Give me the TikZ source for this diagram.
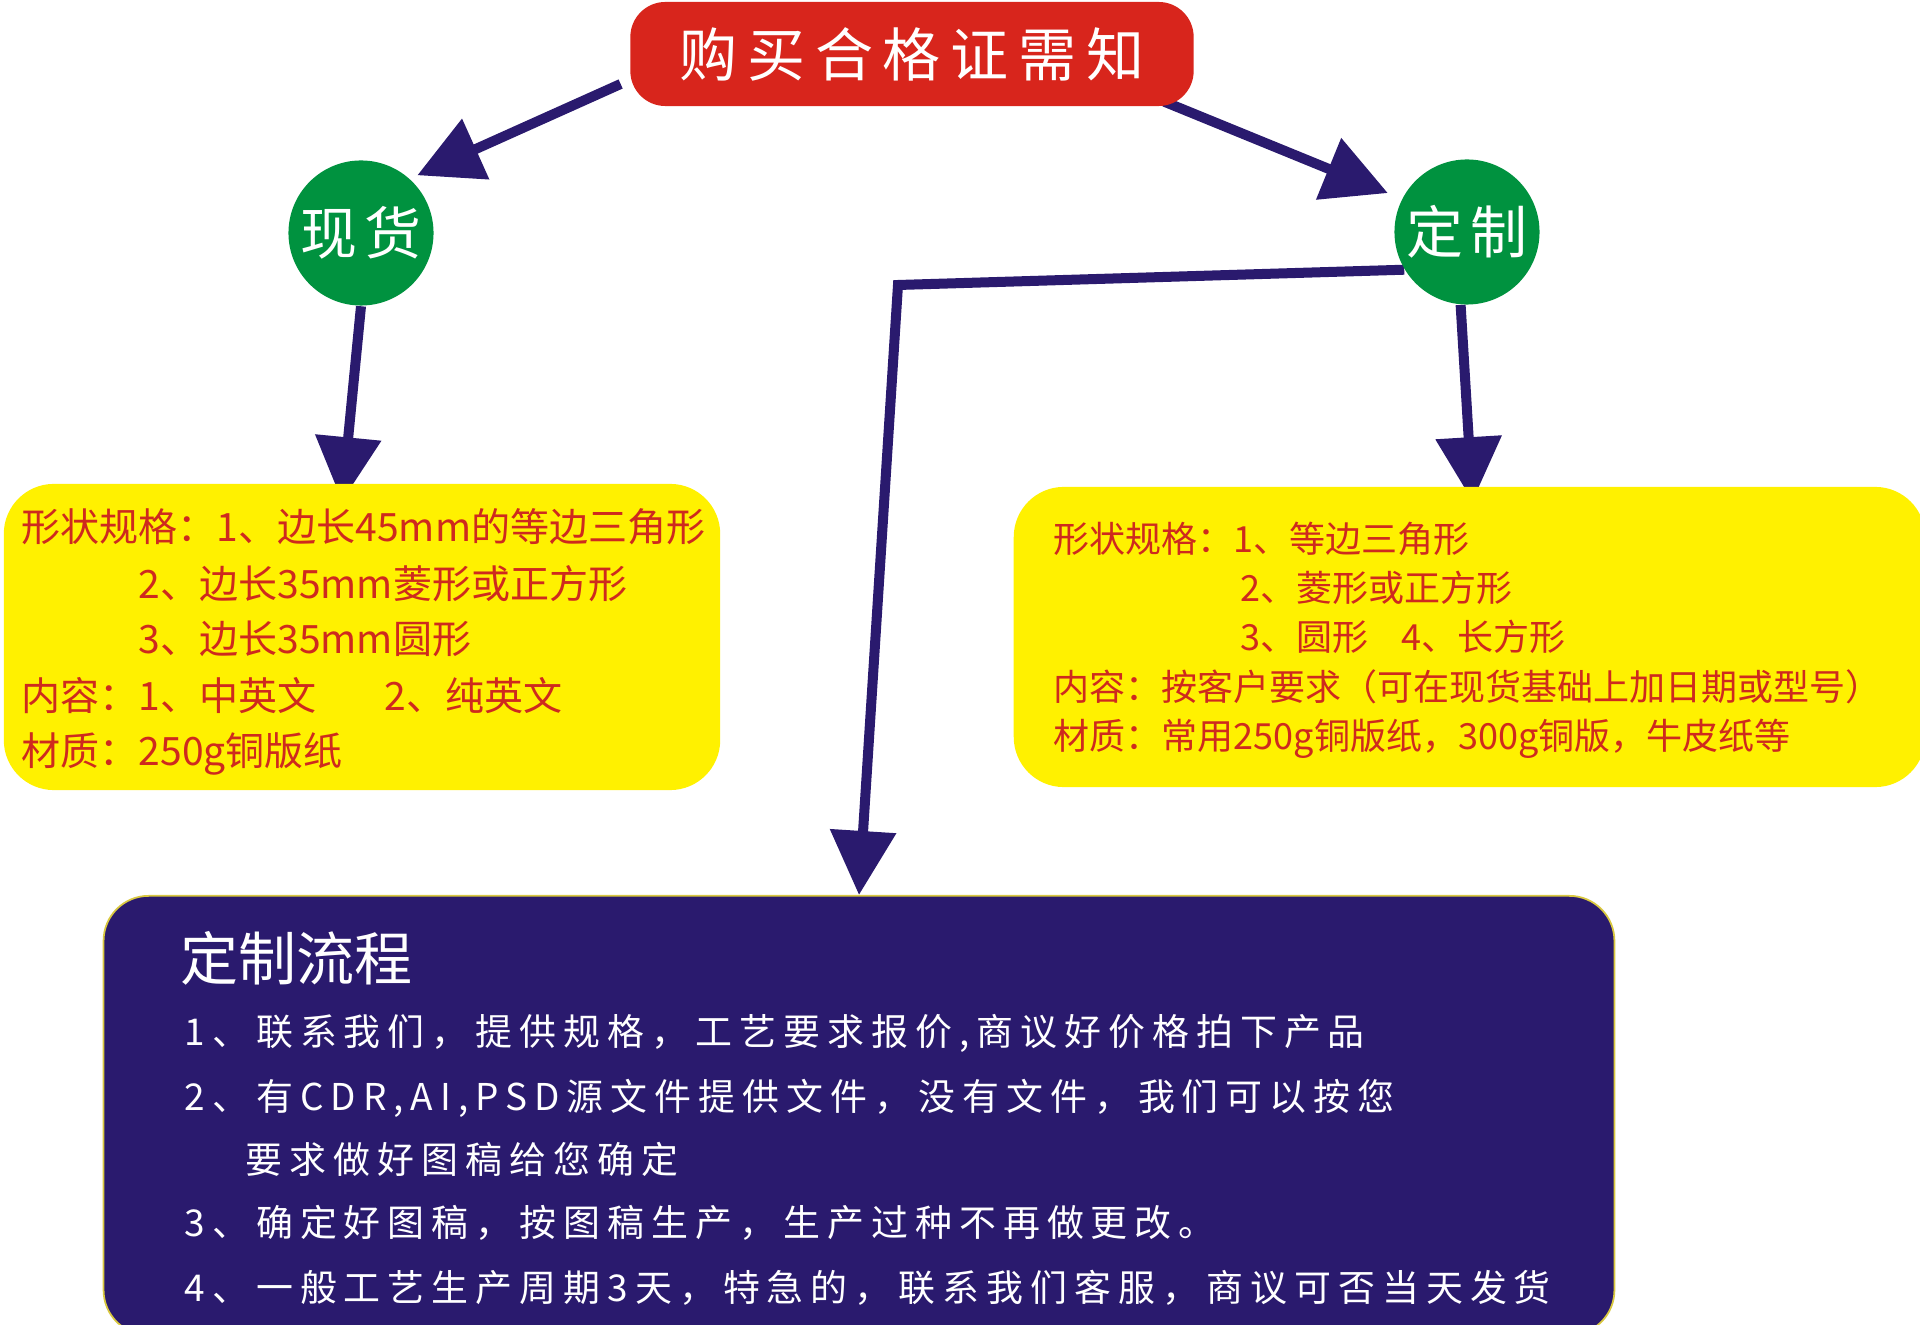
\documentclass[tikz,border=0pt]{standalone}
\usepackage{fontspec}
\setmainfont{Noto Sans CJK SC}
\newfontfamily\headfont[LetterSpace=17]{Noto Sans CJK SC}
\newfontfamily\dotfont[LetterSpace=12]{Noto Sans CJK SC}
\newfontfamily\flowfont[LetterSpace=19]{Noto Sans CJK SC}
\usetikzlibrary{arrows.meta,backgrounds}
\usepackage{xcolor}
\definecolor{titlered}{HTML}{D8251C}
\definecolor{dotgreen}{HTML}{00923F}
\definecolor{noteyellow}{HTML}{FFF100}
\definecolor{notered}{HTML}{CE2A1E}
\definecolor{navy}{HTML}{2A1A6E}
\definecolor{rimgold}{HTML}{D9C840}

\begin{document}
\begin{tikzpicture}[x=0.01cm,y=-0.01cm]
\tikzstyle{redbox}=[rounded corners=0.35cm,fill=titlered,minimum width=5.63cm,minimum height=1.04cm,text=white,font=\headfont\fontsize{16.5}{20}\selectfont]
\tikzstyle{dot}=[circle,fill=dotgreen,minimum size=1.45cm,inner sep=0,text=white,font=\dotfont\fontsize{16.2}{20}\selectfont]
\tikzstyle{notebox}=[rounded corners=0.5cm,fill=noteyellow,inner sep=0]
\tikzstyle{flowbox}=[rounded corners=0.45cm,fill=navy,draw=rimgold,line width=0.5pt,inner sep=0]
\tikzstyle{lefttxt}=[anchor=base west,inner sep=0,text=notered,font=\fontsize{11.1}{13}\selectfont]
\tikzstyle{righttxt}=[anchor=base west,inner sep=0,text=notered,font=\fontsize{10.24}{12}\selectfont]
\tikzstyle{flowtxt}=[anchor=base west,inner sep=0,text=white,font=\flowfont\fontsize{10.5}{12}\selectfont]
\tikzstyle{flow}=[draw=navy,line width=0.1cm,-{Triangle[length=0.64cm,width=0.64cm]}]
\useasboundingbox (0,0) rectangle (1920,1325);
% header and the two branches
\node[redbox] (title) at (912,54) {购买合格证需知};
\node[dot] (spot) at (361,233) {现货};
\node[dot] (custom) at (1467,232) {定制};
% yellow notes
\node[notebox,minimum width=7.16cm,minimum height=3.06cm] (spotbox) at (362,637) {};
\node[notebox,minimum width=9.11cm,minimum height=3.00cm] (custbox) at (1469.5,637) {};
\node[lefttxt] (s1) at (21,542) {形状规格：1、边长45mm的等边三角形};
\node[lefttxt] (s2) at (138,599) {2、边长35mm菱形或正方形};
\node[lefttxt] (s3) at (138,654) {3、边长35mm圆形};
\node[lefttxt] (s4) at (21,711) {内容：1、中英文\hspace{1.75em}2、纯英文};
\node[lefttxt] (s5) at (21,766) {材质：250g铜版纸};
\node[righttxt] (c1) at (1053,553) {形状规格：1、等边三角形};
\node[righttxt] (c2) at (1240,602) {2、菱形或正方形};
\node[righttxt] (c3) at (1240,651) {3、圆形\hspace{0.9em}4、长方形};
\node[righttxt] (c4) at (1053,701) {内容：按客户要求（可在现货基础上加日期或型号）};
\node[righttxt] (c5) at (1053,750) {材质：常用250g铜版纸，300g铜版，牛皮纸等};
% process box
\node[flowbox,minimum width=15.10cm,minimum height=4.39cm] (flowbox) at (859,1115.5) {};
\node[flowtxt,font=\fontsize{16.5}{20}\selectfont] (f0) at (180,981) {定制流程};
\node[flowtxt] (f1) at (184,1046) {1、联系我们，提供规格，工艺要求报价,商议好价格拍下产品};
\node[flowtxt] (f2) at (184,1111) {2、有CDR,AI,PSD源文件提供文件，没有文件，我们可以按您};
\node[flowtxt] (f3) at (245,1174) {要求做好图稿给您确定};
\node[flowtxt] (f4) at (184,1237) {3、确定好图稿，按图稿生产，生产过种不再做更改。};
\node[flowtxt] (f5) at (184,1302) {4、一般工艺生产周期3天，特急的，联系我们客服，商议可否当天发货};
\coordinate (bend) at (898,285);
% connectors behind the boxes
\begin{scope}[on background layer]
\draw[flow,shorten >=0.08cm] ([shift={(-9,30)}]title.west) -- (spot.48);
\draw[flow,shorten >=0.15cm] ([shift={(-30,-5)}]title.south east) -- (custom.153);
\draw[flow] (spot.south) -- ([shift={(-20,18)}]spotbox.north);
\draw[flow] (custom.265) -- ([shift={(3,15)}]custbox.north);
\draw[flow] (custom.211) -- (bend) -- (flowbox.north);
\end{scope}
\end{tikzpicture}
\end{document}
